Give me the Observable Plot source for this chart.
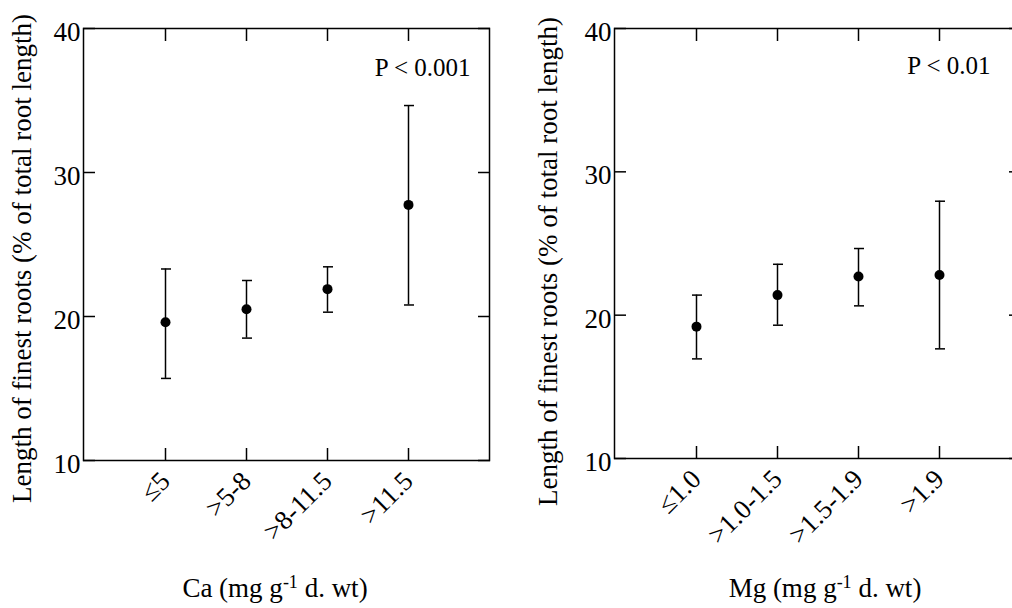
<!DOCTYPE html>
<html><head><meta charset="utf-8">
<script src="https://cdn.jsdelivr.net/npm/d3@7"></script>
<script src="https://cdn.jsdelivr.net/npm/@observablehq/plot@0.6"></script>
<style>
body{margin:0;background:#fff}
#wrap{position:relative;width:1012px;height:608px;overflow:hidden;background:#fff;font-family:"Liberation Serif","Times New Roman",serif;color:#000}
.panel{position:absolute;top:0}
.xl{position:absolute;font-size:27px;line-height:27px;white-space:nowrap;transform:translateX(-50%)}
.xl sup{font-size:18px;line-height:0;vertical-align:9px}
</style></head><body>
<div id="wrap"></div>
<script>
const caCategories = ["≤5", ">5-8", ">8-11.5", ">11.5"];
const caMean = [19.6, 20.5, 21.9, 27.75];
const caLow = [15.7, 18.5, 20.3, 20.8];
const caHigh = [23.3, 22.5, 23.45, 34.65];

const mgCategories = ["≤1.0", ">1.0-1.5", ">1.5-1.9", ">1.9"];
const mgMean = [19.2, 21.4, 22.7, 22.8];
const mgLow = [16.95, 19.3, 20.65, 17.65];
const mgHigh = [21.4, 23.55, 24.65, 27.95];

const yTicks = [10, 20, 30, 40];
const yLabel = "Length of finest roots (% of total root length)";
const caP = "P < 0.001";
const mgP = "P < 0.01";

function panel({cats, mean, lo, hi, pText, marginLeft, marginBottom, width, yLabelDx, yLabelDy, pDx, pDy}) {
  const rows = cats.map((c, i) => ({cat: c, mean: mean[i], lo: lo[i], hi: hi[i]}));
  return Plot.plot({
    width, height: 608,
    marginLeft, marginRight: width - marginLeft - 406, marginTop: 28, marginBottom,
    style: {fontFamily: "Liberation Serif, Times New Roman, serif", fontSize: "27px", background: "white", color: "black", overflow: "visible"},
    x: {type: "point", domain: cats, padding: 1, label: null},
    y: {domain: [10, 40], label: null},
    marks: [
      Plot.frame({strokeWidth: 1.5}),
      Plot.axisX({anchor: "bottom", tickSize: -12, tickFormat: () => "", strokeWidth: 1.5, label: null}),
      Plot.axisX({anchor: "top", tickSize: -12, tickFormat: () => "", strokeWidth: 1.5, label: null}),
      Plot.axisX({anchor: "bottom", tickSize: 0, tickPadding: 16, tickRotate: -45, fontSize: 27, label: null}),
      Plot.axisY(yTicks, {anchor: "left", tickSize: -12, tickFormat: () => "", strokeWidth: 1.5, label: null}),
      Plot.axisY(yTicks, {anchor: "right", tickSize: -12, tickFormat: () => "", strokeWidth: 1.5, label: null}),
      Plot.axisY(yTicks, {anchor: "left", tickSize: 0, tickPadding: 3, dy: 4, fontSize: 27, label: null}),
      Plot.ruleX(rows, {x: "cat", y1: "lo", y2: "hi", strokeWidth: 1.5}),
      Plot.ruleY(rows, {y: "hi", x1: "cat", x2: "cat", insetLeft: -4, insetRight: -6, strokeWidth: 1.5}),
      Plot.ruleY(rows, {y: "lo", x1: "cat", x2: "cat", insetLeft: -4, insetRight: -6, strokeWidth: 1.5}),
      Plot.dot(rows, {x: "cat", y: "mean", r: 5, fill: "black", stroke: "none"}),
      Plot.text([pText], {frameAnchor: "top-right", textAnchor: "end", lineAnchor: "middle", dx: pDx, dy: pDy, fontSize: 25}),
      Plot.text([yLabel], {frameAnchor: "left", textAnchor: "middle", lineAnchor: "middle", rotate: -90, dx: yLabelDx, dy: yLabelDy, fontSize: 27})
    ]
  });
}

const wrap = document.getElementById("wrap");
const left = panel({cats: caCategories, mean: caMean, lo: caLow, hi: caHigh, pText: caP,
  marginLeft: 83, marginBottom: 148, width: 530, yLabelDx: -61, yLabelDy: 14, pDx: -19, pDy: 39});
left.classList.add("panel"); left.style.left = "0px";
wrap.appendChild(left);

const right = panel({cats: mgCategories, mean: mgMean, lo: mgLow, hi: mgHigh, pText: mgP,
  marginLeft: 84, marginBottom: 150, width: 531, yLabelDx: -66, yLabelDy: 18, pDx: -30, pDy: 37});
right.classList.add("panel"); right.style.left = "530px";
wrap.appendChild(right);

const xl1 = document.createElement("div");
xl1.className = "xl"; xl1.style.left = "275px"; xl1.style.top = "575px";
xl1.innerHTML = "Ca (mg g<sup>-1</sup> d. wt)";
wrap.appendChild(xl1);
const xl2 = document.createElement("div");
xl2.className = "xl"; xl2.style.left = "825px"; xl2.style.top = "575px";
xl2.innerHTML = "Mg (mg g<sup>-1</sup> d. wt)";
wrap.appendChild(xl2);
</script>
</body></html>
